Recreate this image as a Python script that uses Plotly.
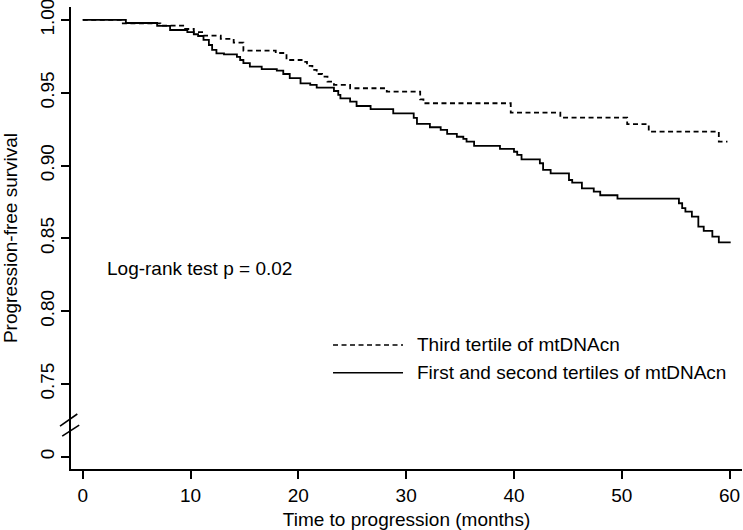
import plotly.graph_objects as go

# ---- data ----
# First and second tertiles of mtDNAcn (solid)
solid_t = [0, 4.0, 6.9, 8.1, 9.7, 10.3, 10.7, 11.2, 11.7, 12.0, 12.4, 13.1, 14.3, 14.6, 14.9,
           15.5, 16.6, 18.0, 18.6, 19.2, 20.2, 21.1, 21.7, 23.3, 23.7, 23.9, 24.8, 25.4, 26.7,
           28.8, 30.7, 31.0, 32.2, 33.2, 33.8, 34.7, 35.3, 35.6, 36.3, 38.7, 40.0, 40.3, 40.7,
           42.4, 42.7, 43.4, 45.1, 45.4, 46.3, 47.4, 48.0, 49.6, 55.3, 55.6, 55.9, 56.5, 57.1,
           57.6, 58.4, 59.0, 60.1]
solid_s = [1.0, 0.9979, 0.9959, 0.9931, 0.9916, 0.9902, 0.9890, 0.9863, 0.9828, 0.9794, 0.9771,
           0.9764, 0.9746, 0.9725, 0.9703, 0.9679, 0.9663, 0.9652, 0.9629, 0.9600, 0.9565, 0.9554,
           0.9535, 0.9512, 0.9485, 0.9462, 0.9439, 0.9409, 0.9387, 0.9359, 0.9327, 0.9286, 0.9263,
           0.9245, 0.9217, 0.9198, 0.9183, 0.9164, 0.9135, 0.9114, 0.9095, 0.9073, 0.9043, 0.9016,
           0.8970, 0.8947, 0.8901, 0.8883, 0.8844, 0.8821, 0.8796, 0.8773, 0.8741, 0.8707, 0.8683,
           0.8649, 0.8580, 0.8551, 0.8512, 0.8473, 0.8473]

# Third tertile of mtDNAcn (dashed)
dash_t = [0, 3.6, 7.2, 9.4, 10.3, 11.2, 12.8, 14.0, 14.9, 17.9, 18.9, 20.3, 20.8, 21.3, 21.7,
          22.2, 22.7, 23.3, 24.8, 28.2, 31.3, 31.6, 39.7, 44.3, 50.5, 52.5, 59.0, 59.8]
dash_s = [1.0, 0.9977, 0.9961, 0.9938, 0.9916, 0.9892, 0.9870, 0.9844, 0.9789, 0.9773, 0.9725,
          0.9712, 0.9684, 0.9657, 0.9629, 0.9611, 0.9576, 0.9554, 0.9531, 0.9508, 0.9455, 0.9428,
          0.9363, 0.9329, 0.9284, 0.9233, 0.9164, 0.9164]

series_names = ["Third tertile of mtDNAcn", "First and second tertiles of mtDNAcn"]

x_ticks = [0, 10, 20, 30, 40, 50, 60]
# broken y axis: the "0" tick is drawn one step below 0.75
y_tickvals = [0.70, 0.75, 0.80, 0.85, 0.90, 0.95, 1.00]
y_ticktext = ["0", "0.75", "0.80", "0.85", "0.90", "0.95", "1.00"]

annotation_text = "Log-rank test p = 0.02"

FONT = "Liberation Sans, Arial, sans-serif"
FS = 19

fig = go.Figure()
fig.add_trace(go.Scatter(x=dash_t, y=dash_s, mode="lines", line_shape="hv",
                         line=dict(color="black", width=1.8, dash="5px,3.5px"),
                         name=series_names[0], showlegend=False))
fig.add_trace(go.Scatter(x=solid_t, y=solid_s, mode="lines", line_shape="hv",
                         line=dict(color="black", width=1.8),
                         name=series_names[1], showlegend=False))

# manual legend (long line samples like the original)
leg_rows = [(0.2684, "5px,3.5px", series_names[0]), (0.2084, "solid", series_names[1])]
for yy, dsh, txt in leg_rows:
    fig.add_shape(type="line", xref="paper", yref="paper", x0=0.3905, x1=0.4948, y0=yy, y1=yy,
                  line=dict(color="black", width=1.6, dash=dsh))
    fig.add_annotation(xref="paper", yref="paper", x=0.5126, y=yy, text=txt, showarrow=False,
                       xanchor="left", yanchor="middle", font=dict(family=FONT, size=FS, color="black"))

fig.add_annotation(xref="paper", yref="paper", x=0.050, y=0.434, text=annotation_text,
                   showarrow=False, xanchor="left", yanchor="middle",
                   font=dict(family=FONT, size=FS, color="black"))

# axis break marks
for y0, y1, x0, x1 in [(0.093, 0.119, -0.0164, 0.0094), (0.071, 0.095, -0.0131, 0.0122)]:
    fig.add_shape(type="line", xref="paper", yref="paper", x0=x0, x1=x1, y0=y0, y1=y1,
                  line=dict(color="black", width=1.6))

fig.update_layout(
    width=743, height=530,
    margin=dict(l=71, r=1, t=7, b=61, autoexpand=False),
    paper_bgcolor="white", plot_bgcolor="white",
    font=dict(family=FONT, size=FS, color="black"),
    showlegend=False,
)
fig.update_xaxes(range=[-1.09, 61.15], tickvals=x_ticks, ticks="outside", ticklen=8,
                 tickwidth=1.5, tickcolor="black", showline=True, linecolor="black",
                 linewidth=1.5, showgrid=False, zeroline=False, automargin=False,
                 ticklabeloverflow="allow",
                 title=dict(text="Time to progression (months)", standoff=8,
                            font=dict(family=FONT, size=FS)),
                 tickfont=dict(family=FONT, size=FS))
fig.update_yaxes(range=[0.6916, 1.0089], tickvals=y_tickvals, ticktext=y_ticktext,
                 ticks="outside", ticklen=8, tickwidth=1.5, tickcolor="black",
                 showline=True, linecolor="black", linewidth=1.5, showgrid=False,
                 zeroline=False, tickangle=-90, automargin=False,
                 ticklabeloverflow="allow",
                 title=dict(text="Progression-free survival", standoff=16,
                            font=dict(family=FONT, size=FS)),
                 tickfont=dict(family=FONT, size=FS))

fig.write_html("out.html", config={"displayModeBar": False},
               post_script="document.body.style.margin='0';")
